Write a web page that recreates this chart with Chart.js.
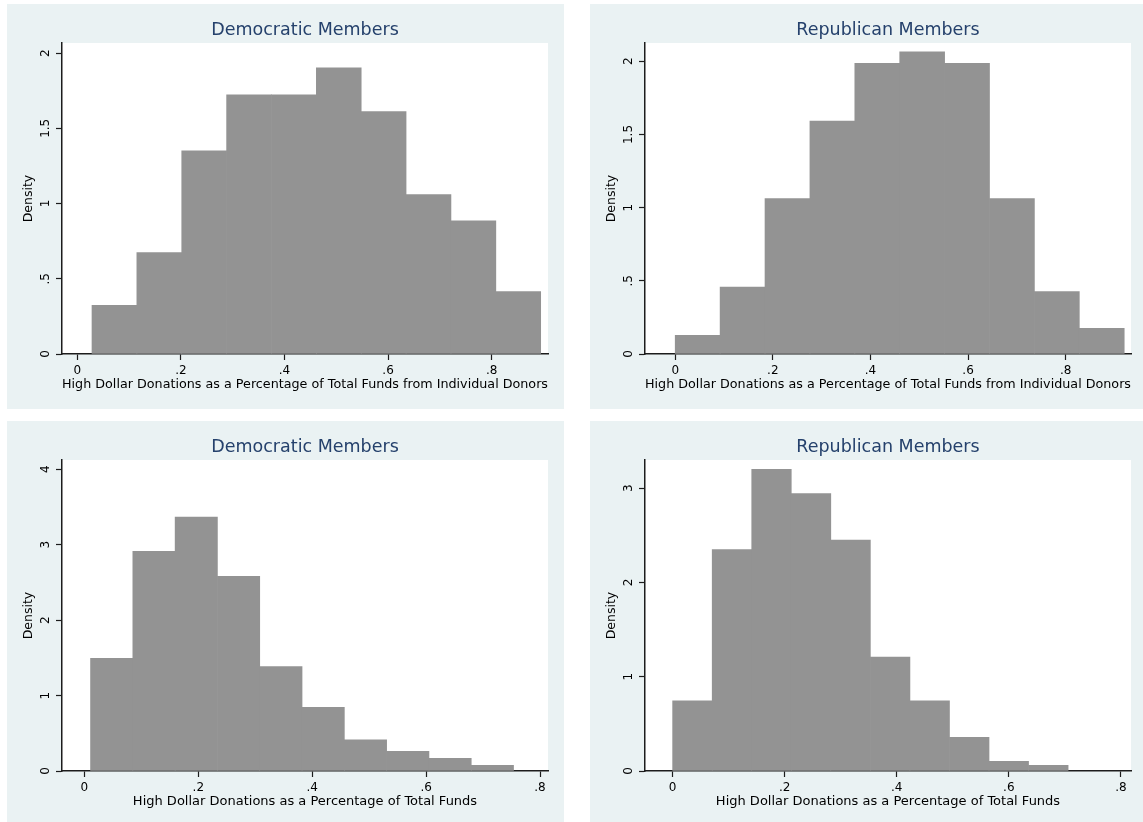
<!DOCTYPE html>
<html>
<head>
<meta charset="utf-8">
<title>High Dollar Donations by Party</title>
<script src="https://cdn.jsdelivr.net/npm/chart.js@4.4.1/dist/chart.umd.min.js"></script>
<style>
  html, body { margin: 0; padding: 0; background: #ffffff; }
  body { width: 1143px; height: 822px; position: relative; overflow: hidden; }
  .panel { position: absolute; width: 557px; height: 405px; background: #eaf2f3; }
  .panel canvas { display: block; }
</style>
</head>
<body>
<div class="panel" style="left:7px; top:4px;"><canvas id="demIndiv" width="557" height="405"></canvas></div>
<div class="panel" style="left:590px; top:4px;"><canvas id="repIndiv" width="557" height="405"></canvas></div>
<div class="panel" style="left:7px; top:421px;"><canvas id="demTotal" width="557" height="405"></canvas></div>
<div class="panel" style="left:590px; top:421px;"><canvas id="repTotal" width="557" height="405"></canvas></div>

<script>
// ---- Data -------------------------------------------------------------
const xTickValues = [0, 0.2, 0.4, 0.6, 0.8];
const xTickLabels = ['0', '.2', '.4', '.6', '.8'];

const yTicksIndiv = [0, 0.5, 1, 1.5, 2];
const yTickLabelsIndiv = ['0', '.5', '1', '1.5', '2'];
const yTicksDemTotal = [0, 1, 2, 3, 4];
const yTickLabelsDemTotal = ['0', '1', '2', '3', '4'];
const yTicksRepTotal = [0, 1, 2, 3];
const yTickLabelsRepTotal = ['0', '1', '2', '3'];

// Share of individual-donor money from high dollar donations
const demIndivEdges = [0.0284, 0.1150, 0.2016, 0.2883, 0.3749, 0.4615, 0.5481, 0.6347, 0.7214, 0.8080, 0.8946];
const demIndivDensity = [0.324, 0.674, 1.350, 1.723, 1.723, 1.902, 1.612, 1.060, 0.885, 0.415];

const repIndivEdges = [0.000, 0.092, 0.184, 0.276, 0.368, 0.460, 0.552, 0.644, 0.736, 0.828, 0.920];
const repIndivDensity = [0.128, 0.457, 1.062, 1.591, 1.986, 2.064, 1.986, 1.062, 0.427, 0.176];

// Share of total funds from high dollar donations
const demTotalEdges = [0.0108, 0.0851, 0.1593, 0.2336, 0.3079, 0.3822, 0.4564, 0.5307, 0.6050, 0.6792, 0.7535];
const demTotalDensity = [1.494, 2.913, 3.366, 2.581, 1.384, 0.843, 0.412, 0.262, 0.169, 0.075];

const repTotalEdges = [0.0000, 0.0706, 0.1412, 0.2117, 0.2823, 0.3529, 0.4235, 0.4941, 0.5646, 0.6352, 0.7058];
const repTotalDensity = [0.745, 2.348, 3.199, 2.943, 2.450, 1.209, 0.745, 0.358, 0.103, 0.060];

const titleDem = 'Democratic Members';
const titleRep = 'Republican Members';
const xTitleIndiv = 'High Dollar Donations as a Percentage of Total Funds from Individual Donors';
const xTitleTotal = 'High Dollar Donations as a Percentage of Total Funds';
const yTitle = 'Density';

// ---- Styling ----------------------------------------------------------
const FONT = '"DejaVu Sans", "Liberation Sans", sans-serif';
const PANEL_BG = '#eaf2f3';
const BAR_FILL = '#939393';
const AXIS_COLOR = '#1c1c1c';
const TITLE_COLOR = '#25416c';

// Panel background, white plot region, panel heading and rotated y tick labels
const panelDecor = {
  id: 'panelDecor',
  beforeDraw(chart) {
    const { ctx, chartArea: a } = chart;
    ctx.save();
    ctx.fillStyle = PANEL_BG;
    ctx.fillRect(0, 0, chart.width, chart.height);
    ctx.fillStyle = '#ffffff';
    ctx.fillRect(a.left, a.top, a.right - a.left, a.bottom - a.top);
    ctx.restore();
  },
  afterDraw(chart, args, opts) {
    const { ctx, chartArea: a } = chart;
    const y = chart.scales.y;
    ctx.save();
    ctx.fillStyle = TITLE_COLOR;
    ctx.font = '17.5px ' + FONT;
    ctx.textAlign = 'center';
    ctx.textBaseline = 'middle';
    ctx.fillText(opts.heading, (a.left + a.right) / 2, 26);

    ctx.fillStyle = '#000000';
    ctx.font = '12px ' + FONT;
    y.ticks.forEach((t, i) => {
      const py = y.getPixelForValue(t.value);
      ctx.save();
      ctx.translate(a.left - 16.5, py);
      ctx.rotate(-Math.PI / 2);
      ctx.fillText(opts.yLabels[i], 0, 0);
      ctx.restore();
    });
    ctx.restore();
  }
};

function histogram(id, heading, xTitle, edges, density, xRange, yMax, yTicks, yLabels) {
  const points = density.map((d, i) => ({ x: (edges[i] + edges[i + 1]) / 2, y: d }));
  return new Chart(document.getElementById(id), {
    type: 'bar',
    data: {
      datasets: [{
        data: points,
        backgroundColor: BAR_FILL,
        borderWidth: 0,
        barPercentage: 1,
        categoryPercentage: 1
      }]
    },
    options: {
      responsive: false,
      animation: false,
      devicePixelRatio: 1,
      layout: { padding: { top: 39, right: 16, left: 0, bottom: 0 } },
      plugins: {
        legend: { display: false },
        tooltip: { enabled: false },
        title: { display: false },
        panelDecor: { heading: heading, yLabels: yLabels }
      },
      scales: {
        x: {
          type: 'linear',
          min: xRange[0],
          max: xRange[1],
          offset: false,
          afterBuildTicks: s => { s.ticks = xTickValues.map(v => ({ value: v })); },
          afterFit: s => { s.height = 55; },
          ticks: {
            autoSkip: false,
            maxRotation: 0,
            minRotation: 0,
            padding: 4,
            color: '#000000',
            font: { family: FONT, size: 12 },
            callback: (v, i) => xTickLabels[i]
          },
          grid: { offset: false, drawOnChartArea: false, drawTicks: true, tickLength: 6, color: AXIS_COLOR, tickWidth: 1.2 },
          border: { display: true, color: AXIS_COLOR, width: 1.5 },
          title: {
            display: true,
            text: xTitle,
            color: '#000000',
            font: { family: FONT, size: 13 },
            padding: { top: 0, bottom: 17 }
          }
        },
        y: {
          type: 'linear',
          min: 0,
          max: yMax,
          afterBuildTicks: s => { s.ticks = yTicks.map(v => ({ value: v })); },
          afterFit: s => { s.width = 55; },
          ticks: { display: false },
          grid: { offset: false, drawOnChartArea: false, drawTicks: true, tickLength: 6, color: AXIS_COLOR, tickWidth: 1.2 },
          border: { display: true, color: AXIS_COLOR, width: 1.5 },
          title: {
            display: true,
            text: yTitle,
            color: '#000000',
            font: { family: FONT, size: 12.5 },
            padding: { top: 14, bottom: 0 }
          }
        }
      }
    },
    plugins: [panelDecor]
  });
}

histogram('demIndiv', titleDem, xTitleIndiv, demIndivEdges, demIndivDensity, [-0.0295, 0.9087], 2.067, yTicksIndiv, yTickLabelsIndiv);
histogram('repIndiv', titleRep, xTitleIndiv, repIndivEdges, repIndivDensity, [-0.0619, 0.9339], 2.125, yTicksIndiv, yTickLabelsIndiv);
histogram('demTotal', titleDem, xTitleTotal, demTotalEdges, demTotalDensity, [-0.0393, 0.8140], 4.123, yTicksDemTotal, yTickLabelsDemTotal);
histogram('repTotal', titleRep, xTitleTotal, repTotalEdges, repTotalDensity, [-0.0493, 0.8180], 3.298, yTicksRepTotal, yTickLabelsRepTotal);
</script>
</body>
</html>
